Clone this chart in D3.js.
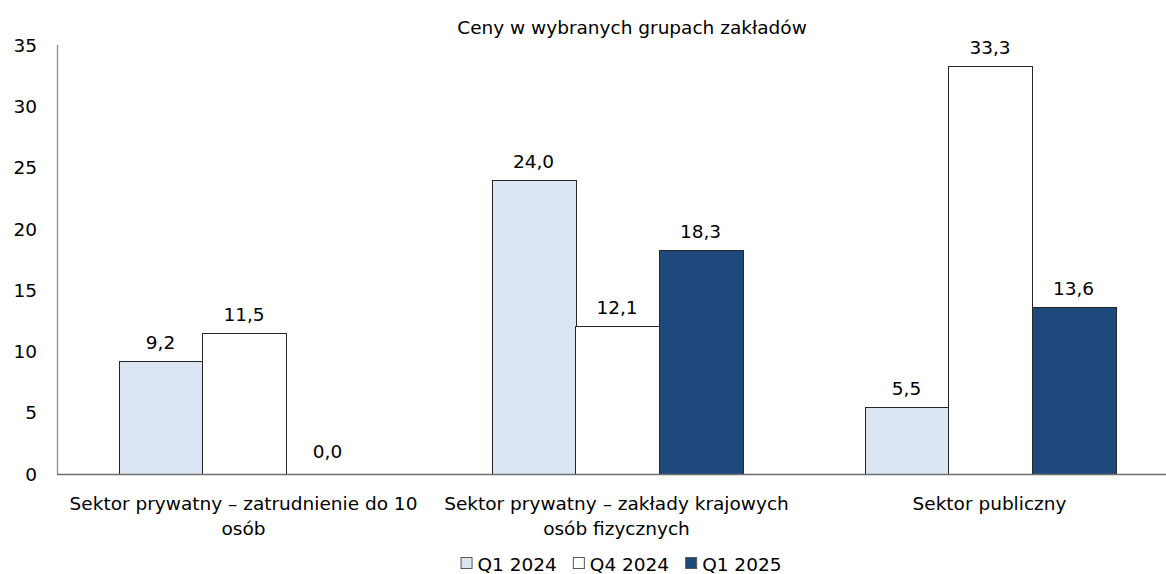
<!DOCTYPE html>
<html>
<head>
<meta charset="utf-8">
<script src="https://cdn.jsdelivr.net/npm/d3@7"></script>
<style>
  body { margin: 0; background: #fff; }
  svg { display: block; font-family: 'DejaVu Sans', Verdana, sans-serif; }
  .tick-label, .bar-label, .cat-label, .legend-label { font-size: 18.5px; fill: #000; }
  .title { font-size: 18.5px; fill: #000; }
</style>
</head>
<body>
<svg width="1166" height="574"></svg>
<script>
// data
const categories = [
  ['Sektor prywatny – zatrudnienie do 10', 'osób'],
  ['Sektor prywatny – zakłady krajowych', 'osób fizycznych'],
  ['Sektor publiczny']
]
const series = ['Q1 2024', 'Q4 2024', 'Q1 2025']
const q1_2024 = [9.2, 24.0, 5.5]
const q4_2024 = [11.5, 12.1, 33.3]
const q1_2025 = [0.0, 18.3, 13.6]
const yTicks = [0, 5, 10, 15, 20, 25, 30, 35]

const colors = ['#dce6f2', '#ffffff', '#1f497d']
const values = [q1_2024, q4_2024, q1_2025]

const svg = d3.select('svg')

// scales
const x0 = d3.scaleBand()
  .domain(d3.range(categories.length))
  .range([57.5, 1176.5])
  .paddingInner(0)

const x1 = d3.scaleBand()
  .domain(series)
  .range([0, x0.bandwidth()])
  .paddingInner(0)
  .paddingOuter(0.733)

const y = d3.scaleLinear()
  .domain([0, 35])
  .range([474, 45])

// title
svg.append('text')
  .attr('class', 'title')
  .attr('x', 632)
  .attr('y', 34)
  .attr('text-anchor', 'middle')
  .text('Ceny w wybranych grupach zakładów')

// y tick labels
svg.append('g')
  .selectAll('text')
  .data(yTicks)
  .join('text')
  .attr('class', 'tick-label')
  .attr('x', 37)
  .attr('y', d => y(d))
  .attr('dy', '0.36em')
  .attr('text-anchor', 'end')
  .text(d => d)

// bars
const rows = []
categories.forEach((c, i) => {
  series.forEach((s, j) => rows.push({cat: i, s, j, v: values[j][i]}))
})

svg.append('g')
  .selectAll('rect')
  .data(rows)
  .join('rect')
  .attr('x', d => Math.round(x0(d.cat) + x1(d.s)) + 0.5)
  .attr('y', d => Math.round(y(d.v)) + 0.5)
  .attr('width', Math.round(x1.bandwidth()))
  .attr('height', d => Math.round(y(0)) - Math.round(y(d.v)))
  .attr('fill', d => colors[d.j])
  .attr('stroke', '#262626')
  .attr('stroke-width', 1)

// axes lines
svg.append('line')
  .attr('x1', 57.5).attr('x2', 57.5)
  .attr('y1', y(35)).attr('y2', y(0) + 0.5)
  .attr('stroke', '#8c8c8c')
  .attr('stroke-width', 1.3)

svg.append('line')
  .attr('x1', 57).attr('x2', 1166)
  .attr('y1', Math.round(y(0)) + 0.5).attr('y2', Math.round(y(0)) + 0.5)
  .attr('stroke', '#6e6e6e')
  .attr('stroke-width', 1.3)

// value labels
svg.append('g')
  .selectAll('text')
  .data(rows)
  .join('text')
  .attr('class', 'bar-label')
  .attr('x', d => x0(d.cat) + x1(d.s) + x1.bandwidth() / 2)
  .attr('y', d => y(d.v) - (d.v === 0 ? 16 : 12))
  .attr('text-anchor', 'middle')
  .text(d => d.v.toFixed(1).replace('.', ','))

// category labels
const cat = svg.append('g')
  .selectAll('text')
  .data(categories)
  .join('text')
  .attr('class', 'cat-label')
  .attr('text-anchor', 'middle')
  .attr('y', 510)

cat.selectAll('tspan')
  .data((d, i) => d.map(line => ({line, i})))
  .join('tspan')
  .attr('x', d => x0(d.i) + x0.bandwidth() / 2 - 0.5)
  .attr('dy', (d, k) => k === 0 ? 0 : 24.5)
  .text(d => d.line)

// legend
const legend = svg.append('g')
let lx = 0
series.forEach((s, j) => {
  const item = legend.append('g').attr('transform', `translate(${lx},0)`)
  item.append('rect')
    .attr('x', 0.5).attr('y', 557.5)
    .attr('width', 11).attr('height', 11)
    .attr('fill', colors[j])
    .attr('stroke', '#595959')
  const t = item.append('text')
    .attr('class', 'legend-label')
    .attr('x', 17)
    .attr('y', 570.5)
    .text(s)
  lx += 17 + t.node().getComputedTextLength() + 16
})
const lw = lx - 16
legend.attr('transform', `translate(${621 - lw / 2},0)`)
</script>
</body>
</html>
